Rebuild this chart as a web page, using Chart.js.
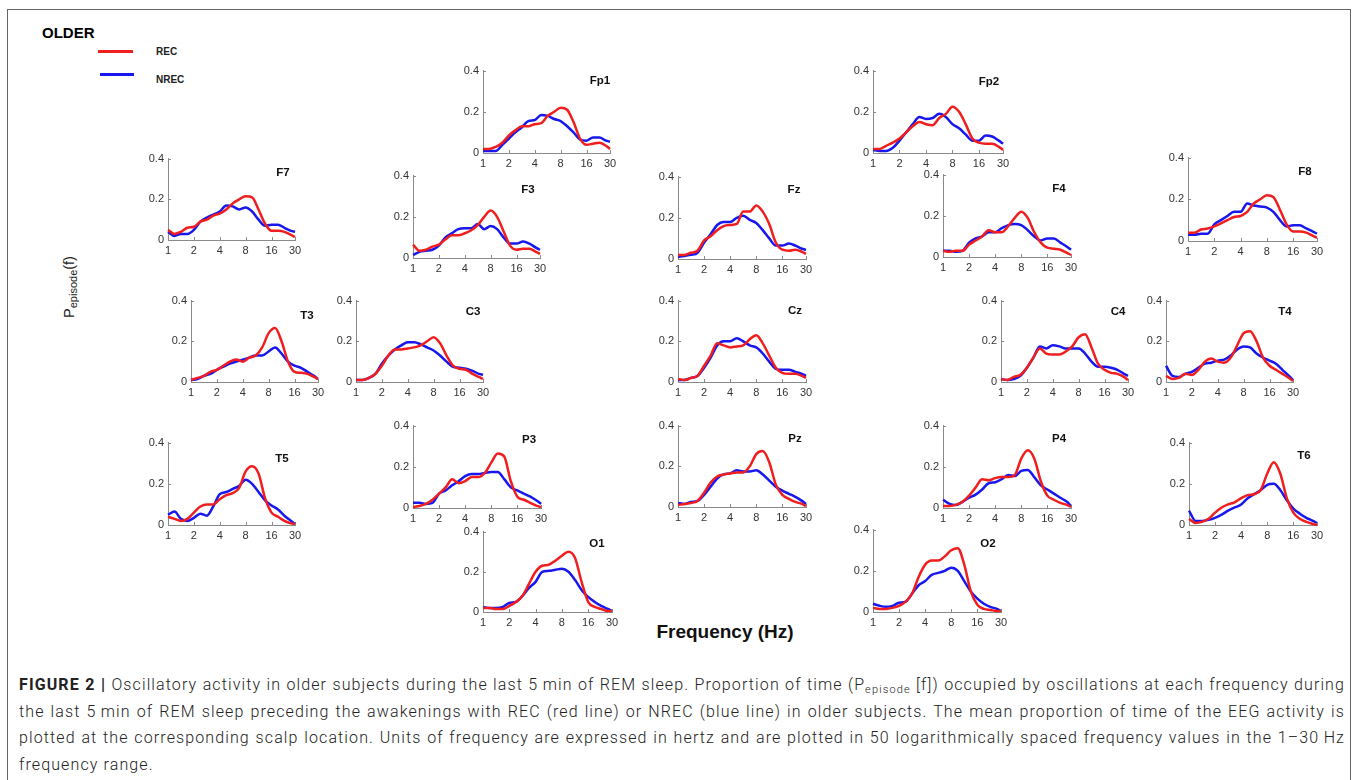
<!DOCTYPE html>
<html>
<head>
<meta charset="utf-8">
<script src="https://cdn.jsdelivr.net/npm/chart.js@4.4.1/dist/chart.umd.min.js"></script>
<style>
  html, body { margin: 0; padding: 0; background: #fff; }
  body { width: 1358px; height: 780px; position: relative; overflow: hidden; font-family: "Liberation Sans", Arial, sans-serif; }
  .frame { position: absolute; left: 7px; top: 9px; width: 1342px; height: 820px; border: 1px solid #666; }
  .abs { position: absolute; white-space: nowrap; }
  .plot { position: absolute; }
  .ttl { position: absolute; font-weight: bold; font-size: 11.5px; color: #111; transform: translate(-50%, -50%); white-space: nowrap; }
  .caption { position: absolute; left: 19px; top: 672px; width: 1326px; font-family: Roboto, "Liberation Sans", sans-serif; font-weight: 300; font-size: 16px; line-height: 26.7px; color: #222; }
  .caption div { text-align: justify; text-align-last: justify; white-space: nowrap; }
  .caption div.last { text-align-last: left; }
  .caption b { font-weight: 700; }
  .caption sub { font-size: 11px; vertical-align: -3px; line-height: 0; }
  .probe { position: absolute; visibility: hidden; white-space: nowrap; font-family: Roboto, "Liberation Sans", sans-serif; font-weight: 300; font-size: 16px; }
  .probe b { font-weight: 700; }
  .probe sub { font-size: 11px; }
</style>
</head>
<body>
<div class="frame"></div>

<div class="abs" style="left:42px; top:24px; font-weight:bold; font-size:15px; color:#000;">OLDER</div>
<div class="abs" style="left:98px; top:50px; width:35px; height:3px; background:#f01e1e;"></div>
<div class="abs" style="left:156px; top:46px; font-weight:bold; font-size:10px; color:#222;">REC</div>
<div class="abs" style="left:100px; top:73px; width:34px; height:3px; background:#1717ee;"></div>
<div class="abs" style="left:156px; top:74px; font-weight:bold; font-size:10px; color:#222;">NREC</div>

<div class="abs" style="left:70px; top:287px; font-size:14.5px; color:#222; transform: translate(-50%, -50%) rotate(-90deg);">P<sub style="font-size:11px;">episode</sub>(f)</div>
<div class="abs" style="left:725px; top:632px; font-weight:bold; font-size:19px; color:#111; transform: translate(-50%, -50%);">Frequency (Hz)</div>

<div id="plots"></div>

<div class="caption" id="caption">
  <div><b>FIGURE 2 |</b> Oscillatory activity in older subjects during the last 5&#8201;min of REM sleep. Proportion of time (P<sub>episode</sub> [f]) occupied by oscillations at each frequency during</div>
  <div>the last 5&#8201;min of REM sleep preceding the awakenings with REC (red line) or NREC (blue line) in older subjects. The mean proportion of time of the EEG activity is</div>
  <div>plotted at the corresponding scalp location. Units of frequency are expressed in hertz and are plotted in 50 logarithmically spaced frequency values in the 1–30&#8201;Hz</div>
  <div class="last">frequency range.</div>
</div>

<script>
// Frequencies (Hz) at which the curves are sampled
const freqs = [1, 1.19, 1.41, 1.68, 2, 2.38, 2.83, 3.36, 4, 4.76, 5.66, 6.73, 8, 9.51, 11.3, 13.45, 16, 19.03, 22.6, 26.9, 30];
const xTicks = [1, 2, 4, 8, 16, 30];
const yTicks = [0, 0.2, 0.4];
const channels = ['Fp1', 'Fp2', 'F7', 'F3', 'Fz', 'F4', 'F8', 'T3', 'C3', 'Cz', 'C4', 'T4', 'T5', 'P3', 'Pz', 'P4', 'T6', 'O1', 'O2'];

// REC (red) and NREC (blue) proportions per channel
const recFp1  = [0.02,0.02,0.03,0.05,0.085,0.11,0.13,0.13,0.14,0.145,0.18,0.2,0.22,0.21,0.15,0.07,0.04,0.045,0.05,0.035,0.02];
const nrecFp1 = [0.01,0.01,0.01,0.04,0.07,0.1,0.125,0.155,0.16,0.185,0.18,0.165,0.155,0.13,0.1,0.065,0.06,0.075,0.075,0.06,0.055];
const recFp2  = [0.02,0.02,0.035,0.05,0.07,0.1,0.13,0.15,0.14,0.135,0.17,0.19,0.225,0.2,0.14,0.07,0.05,0.045,0.045,0.03,0.015];
const nrecFp2 = [0.015,0.01,0.01,0.025,0.06,0.1,0.14,0.175,0.165,0.17,0.19,0.175,0.14,0.12,0.09,0.06,0.06,0.085,0.08,0.06,0.045];
const recF7   = [0.05,0.03,0.04,0.06,0.065,0.09,0.1,0.12,0.13,0.15,0.18,0.2,0.215,0.21,0.15,0.08,0.045,0.045,0.04,0.025,0.015];
const nrecF7  = [0.04,0.02,0.03,0.03,0.05,0.09,0.11,0.125,0.14,0.17,0.165,0.15,0.16,0.14,0.1,0.07,0.075,0.075,0.06,0.045,0.04];
const recF3   = [0.065,0.035,0.04,0.055,0.065,0.09,0.11,0.11,0.12,0.135,0.16,0.2,0.23,0.2,0.13,0.06,0.04,0.045,0.045,0.03,0.02];
const nrecF3  = [0.015,0.03,0.035,0.04,0.06,0.1,0.12,0.14,0.145,0.145,0.165,0.14,0.155,0.14,0.1,0.07,0.07,0.08,0.07,0.05,0.04];
const recFz   = [0.02,0.02,0.03,0.04,0.09,0.11,0.14,0.16,0.165,0.17,0.23,0.23,0.26,0.23,0.17,0.08,0.045,0.04,0.045,0.035,0.025];
const nrecFz  = [0.01,0.015,0.02,0.03,0.08,0.12,0.165,0.18,0.18,0.2,0.21,0.19,0.175,0.14,0.1,0.065,0.065,0.075,0.065,0.05,0.045];
const recF4   = [0.03,0.025,0.03,0.03,0.06,0.08,0.1,0.13,0.12,0.12,0.15,0.19,0.22,0.19,0.12,0.07,0.045,0.04,0.035,0.02,0.01];
const nrecF4  = [0.03,0.03,0.025,0.03,0.07,0.09,0.1,0.12,0.12,0.14,0.155,0.16,0.155,0.13,0.1,0.08,0.09,0.09,0.07,0.05,0.035];
const recF8   = [0.04,0.04,0.055,0.06,0.07,0.085,0.1,0.115,0.12,0.14,0.18,0.2,0.22,0.21,0.15,0.08,0.045,0.045,0.04,0.025,0.015];
const nrecF8  = [0.03,0.03,0.035,0.035,0.08,0.1,0.12,0.14,0.14,0.18,0.17,0.165,0.16,0.14,0.1,0.07,0.075,0.075,0.06,0.045,0.035];
const recT3   = [0.01,0.02,0.03,0.05,0.06,0.08,0.1,0.11,0.1,0.12,0.13,0.17,0.24,0.265,0.2,0.1,0.05,0.045,0.04,0.025,0.015];
const nrecT3  = [0.01,0.015,0.03,0.04,0.06,0.075,0.09,0.1,0.11,0.12,0.13,0.13,0.15,0.17,0.14,0.1,0.08,0.07,0.05,0.03,0.015];
const recC3   = [0.01,0.01,0.02,0.04,0.08,0.13,0.16,0.16,0.165,0.17,0.18,0.2,0.22,0.19,0.13,0.08,0.065,0.06,0.04,0.025,0.015];
const nrecC3  = [0.01,0.01,0.02,0.04,0.09,0.13,0.16,0.18,0.195,0.195,0.185,0.17,0.155,0.13,0.1,0.075,0.07,0.065,0.055,0.04,0.035];
const recCz   = [0.015,0.01,0.02,0.03,0.08,0.13,0.19,0.18,0.17,0.175,0.18,0.21,0.23,0.19,0.13,0.07,0.045,0.04,0.04,0.03,0.02];
const nrecCz  = [0.01,0.01,0.02,0.03,0.07,0.12,0.18,0.2,0.2,0.215,0.2,0.18,0.17,0.14,0.1,0.065,0.06,0.06,0.05,0.04,0.03];
const recC4   = [0.015,0.01,0.025,0.035,0.07,0.12,0.165,0.14,0.135,0.135,0.15,0.175,0.22,0.235,0.17,0.09,0.06,0.045,0.04,0.025,0.01];
const nrecC4  = [0.015,0.01,0.015,0.03,0.07,0.12,0.175,0.165,0.18,0.175,0.165,0.165,0.165,0.14,0.1,0.075,0.075,0.07,0.06,0.04,0.03];
const recT4   = [0.03,0.015,0.02,0.04,0.035,0.06,0.1,0.115,0.1,0.095,0.12,0.18,0.24,0.25,0.2,0.12,0.08,0.06,0.04,0.02,0.005];
const nrecT4  = [0.08,0.03,0.025,0.04,0.05,0.07,0.09,0.095,0.105,0.11,0.13,0.16,0.175,0.17,0.14,0.12,0.105,0.09,0.06,0.03,0.01];
const recT5   = [0.04,0.03,0.02,0.03,0.06,0.09,0.1,0.1,0.125,0.145,0.155,0.18,0.26,0.285,0.25,0.13,0.06,0.04,0.02,0.008,0.005];
const nrecT5  = [0.05,0.065,0.03,0.02,0.035,0.055,0.045,0.09,0.15,0.16,0.175,0.19,0.22,0.2,0.16,0.12,0.095,0.075,0.045,0.02,0.005];
const recP3   = [0.005,0.01,0.02,0.04,0.07,0.1,0.14,0.12,0.13,0.15,0.15,0.17,0.22,0.265,0.25,0.13,0.055,0.04,0.025,0.01,0.005];
const nrecP3  = [0.025,0.025,0.02,0.025,0.07,0.085,0.11,0.13,0.155,0.165,0.165,0.17,0.175,0.175,0.14,0.1,0.085,0.07,0.055,0.035,0.02];
const recPz   = [0.01,0.015,0.02,0.03,0.07,0.12,0.15,0.16,0.165,0.17,0.17,0.2,0.26,0.275,0.22,0.11,0.06,0.04,0.025,0.015,0.005];
const nrecPz  = [0.02,0.015,0.025,0.03,0.06,0.1,0.14,0.16,0.165,0.18,0.175,0.175,0.18,0.16,0.13,0.1,0.08,0.065,0.05,0.03,0.015];
const recP4   = [0.01,0.01,0.015,0.03,0.06,0.1,0.14,0.135,0.145,0.15,0.15,0.16,0.24,0.28,0.24,0.13,0.06,0.04,0.025,0.015,0.005];
const nrecP4  = [0.04,0.02,0.015,0.03,0.05,0.065,0.09,0.12,0.125,0.14,0.16,0.155,0.18,0.185,0.15,0.11,0.09,0.07,0.05,0.03,0.01];
const recT6   = [0.03,0.01,0.015,0.03,0.06,0.085,0.1,0.11,0.13,0.145,0.15,0.17,0.25,0.305,0.25,0.13,0.06,0.03,0.015,0.005,0];
const nrecT6  = [0.07,0.02,0.02,0.025,0.035,0.05,0.07,0.085,0.1,0.13,0.15,0.17,0.195,0.2,0.17,0.12,0.08,0.055,0.035,0.02,0.01];
const recO1   = [0.02,0.02,0.015,0.015,0.03,0.05,0.08,0.14,0.2,0.23,0.235,0.255,0.28,0.3,0.27,0.15,0.05,0.025,0.015,0.005,0.005];
const nrecO1  = [0.025,0.02,0.02,0.025,0.045,0.05,0.08,0.12,0.15,0.2,0.205,0.21,0.215,0.2,0.16,0.11,0.075,0.05,0.03,0.015,0.005];
const recO2   = [0.02,0.015,0.015,0.02,0.03,0.05,0.09,0.17,0.23,0.25,0.25,0.27,0.3,0.31,0.23,0.1,0.035,0.015,0.01,0.005,0.005];
const nrecO2  = [0.04,0.03,0.025,0.03,0.045,0.05,0.09,0.13,0.15,0.18,0.19,0.2,0.215,0.2,0.15,0.1,0.065,0.04,0.025,0.015,0.005];

const recData = { Fp1: recFp1, Fp2: recFp2, F7: recF7, F3: recF3, Fz: recFz, F4: recF4, F8: recF8, T3: recT3, C3: recC3, Cz: recCz,
                  C4: recC4, T4: recT4, T5: recT5, P3: recP3, Pz: recPz, P4: recP4, T6: recT6, O1: recO1, O2: recO2 };
const nrecData = { Fp1: nrecFp1, Fp2: nrecFp2, F7: nrecF7, F3: nrecF3, Fz: nrecFz, F4: nrecF4, F8: nrecF8, T3: nrecT3, C3: nrecC3, Cz: nrecCz,
                   C4: nrecC4, T4: nrecT4, T5: nrecT5, P3: nrecP3, Pz: nrecPz, P4: nrecP4, T6: nrecT6, O1: nrecO1, O2: nrecO2 };

// Plot placement on the page: [x at 1 Hz, x at 30 Hz, y at 0.4, y at 0, title centre x, title centre y]
const placement = {
  Fp1: [483, 610, 68, 153, 600, 80],
  Fp2: [873, 1003, 68, 153, 989, 81],
  F7:  [168, 295, 156, 240, 283, 172],
  F3:  [413, 540, 173, 258, 528, 189],
  Fz:  [678, 806, 174, 259, 794, 189],
  F4:  [943, 1071, 172, 257, 1059, 188],
  F8:  [1188, 1317, 155, 241, 1305, 171],
  T3:  [191, 318, 298, 382, 307, 315],
  C3:  [356, 483, 298, 382, 473, 311],
  Cz:  [678, 806, 298, 382, 795, 310],
  C4:  [1001, 1128, 298, 382, 1118, 311],
  T4:  [1166, 1293, 298, 382, 1285, 311],
  T5:  [168, 295, 440, 525, 282, 458],
  P3:  [413, 541, 423, 508, 529, 439],
  Pz:  [678, 806, 423, 507, 795, 438],
  P4:  [943, 1071, 423, 508, 1059, 438],
  T6:  [1189, 1317, 440, 525, 1304, 455],
  O1:  [483, 612, 529, 612, 597, 543],
  O2:  [873, 1001, 527, 612, 988, 543]
};

const Y_AXIS_W = 30, X_AXIS_H = 18, PAD_L = 2, PAD_T = 8, PAD_R = 12;
const AXIS_COLOR = '#8a8a8a';
const RED = '#f01e1e', BLUE = '#1717ee';

// small inward tick marks, MATLAB style
const innerTicks = {
  id: 'innerTicks',
  beforeDatasetsDraw(chart) {
    const { ctx, chartArea, scales } = chart;
    ctx.save();
    ctx.strokeStyle = AXIS_COLOR;
    ctx.lineWidth = 1;
    ctx.beginPath();
    xTicks.forEach(v => {
      const px = Math.round(scales.x.getPixelForValue(v)) + 0.5;
      ctx.moveTo(px, chartArea.bottom);
      ctx.lineTo(px, chartArea.bottom - 3);
    });
    yTicks.forEach(v => {
      const py = Math.round(scales.y.getPixelForValue(v)) + 0.5;
      ctx.moveTo(chartArea.left, py);
      ctx.lineTo(chartArea.left + 3, py);
    });
    ctx.stroke();
    ctx.restore();
  }
};

function makePlot(ch) {
  const [x1, x30, yTop, yBot, tx, ty] = placement[ch];
  const w = (x30 - x1) + Y_AXIS_W + PAD_L + PAD_R;
  const h = (yBot - yTop) + PAD_T + X_AXIS_H;

  const holder = document.createElement('div');
  holder.className = 'plot';
  holder.style.left = (x1 - Y_AXIS_W - PAD_L) + 'px';
  holder.style.top = (yTop - PAD_T) + 'px';
  const canvas = document.createElement('canvas');
  canvas.width = w;
  canvas.height = h;
  holder.appendChild(canvas);
  document.getElementById('plots').appendChild(holder);

  const title = document.createElement('div');
  title.className = 'ttl';
  title.style.left = tx + 'px';
  title.style.top = ty + 'px';
  title.textContent = ch;
  document.body.appendChild(title);

  const line = (vals, color) => ({
    data: freqs.map((f, i) => ({ x: f, y: vals[i] })),
    borderColor: color,
    borderWidth: 2.5,
    pointRadius: 0,
    fill: false,
    cubicInterpolationMode: 'monotone',
    clip: 4
  });

  new Chart(canvas, {
    type: 'line',
    data: { datasets: [line(recData[ch], RED), line(nrecData[ch], BLUE)] },
    options: {
      responsive: false,
      animation: false,
      events: [],
      layout: { padding: { left: PAD_L, top: PAD_T, right: PAD_R, bottom: 0 } },
      plugins: { legend: { display: false }, tooltip: { enabled: false } },
      scales: {
        x: {
          type: 'logarithmic',
          min: 1,
          max: 30,
          afterBuildTicks: s => { s.ticks = xTicks.map(v => ({ value: v })); },
          afterFit: s => { s.height = X_AXIS_H; },
          grid: { display: false, drawTicks: false },
          border: { display: true, color: AXIS_COLOR, width: 1 },
          ticks: {
            autoSkip: false, maxRotation: 0, padding: 4, color: '#333',
            font: { family: 'Liberation Sans', size: 11 },
            callback: v => String(v)
          }
        },
        y: {
          min: 0,
          max: 0.4,
          afterBuildTicks: s => { s.ticks = yTicks.map(v => ({ value: v })); },
          afterFit: s => { s.width = Y_AXIS_W; },
          grid: { display: false, drawTicks: false },
          border: { display: true, color: AXIS_COLOR, width: 1 },
          ticks: {
            padding: 4, color: '#333',
            font: { family: 'Liberation Sans', size: 11 },
            callback: v => (v === 0 ? '0' : v.toFixed(1))
          }
        }
      }
    },
    plugins: [innerTicks]
  });
}

channels.forEach(makePlot);

// widen the caption letters so the first line fills the column with normal word gaps
(function fitCaption() {
  const cap = document.getElementById('caption');
  const first = cap.children[0];
  const probe = document.createElement('span');
  probe.className = 'probe';
  probe.innerHTML = first.innerHTML;
  document.body.appendChild(probe);
  const natural = probe.getBoundingClientRect().width;
  const chars = probe.textContent.length;
  probe.remove();
  const target = 1318;
  if (natural < target) cap.style.letterSpacing = ((target - natural) / chars).toFixed(3) + 'px';
})();
</script>
</body>
</html>
